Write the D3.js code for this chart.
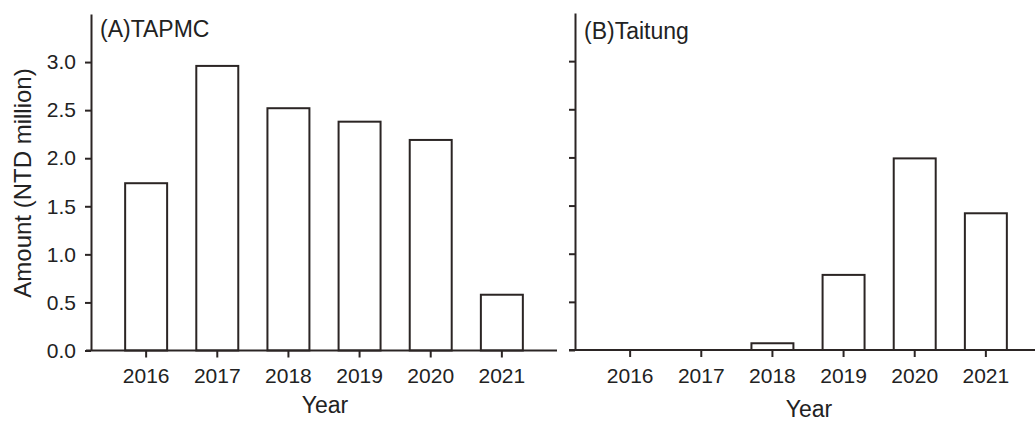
<!DOCTYPE html>
<html>
  <head>
    <meta charset="utf-8">
    <title>Amount by year</title>
    <script src="https://cdn.jsdelivr.net/npm/d3@7"></script>
    <style>
      body { margin: 0; background: #fff; }
      svg { display: block; font-family: "Liberation Sans", Arial, sans-serif; }
      .axis path, .axis line { stroke: #2b2524; stroke-width: 2px; }
      .axis text { fill: #222; font-size: 21px; }
      .bar { fill: #fff; stroke: #2b2524; stroke-width: 2px; }
      .panel-title, .axis-title { fill: #222; font-size: 23px; }
    </style>
  </head>
  <body>
    <svg id="chart" width="1035" height="421"></svg>
    <script>
    var years = ["2016", "2017", "2018", "2019", "2020", "2021"];
    var tapmc = [1.74, 2.96, 2.52, 2.38, 2.19, 0.58];
    var taitung = [0, 0, 0.07, 0.78, 1.99, 1.42];
    var yTicks = [0, 0.5, 1.0, 1.5, 2.0, 2.5, 3.0];

    var svg = d3.select("#chart");

    var panels = [
      {title: "(A)TAPMC", values: tapmc, left: 91, right: 557, top: 14, bottom: 350.5,
       labels: true, titleY: 37, yearX: 325, yearY: 413, baseStart: 86},
      {title: "(B)Taitung", values: taitung, left: 575, right: 1041, top: 13, bottom: 350,
       labels: false, titleY: 39, yearX: 809, yearY: 417, baseStart: 569}
    ];

    panels.forEach(function(p) {
      var x = d3.scaleBand()
          .domain(years)
          .range([p.left, p.right])
          .paddingInner(0.41)
          .paddingOuter(0.48);

      var y = d3.scaleLinear()
          .domain([0, 3.5])
          .range([p.bottom, p.top]);

      var data = years.map(function(yr, i) { return {year: yr, value: p.values[i]}; });

      var g = svg.append("g");

      g.selectAll("rect")
        .data(data)
        .enter().append("rect")
        .attr("class", "bar")
        .attr("x", function(d) { return x(d.year); })
        .attr("width", x.bandwidth())
        .attr("y", function(d) { return y(d.value); })
        .attr("height", function(d) { return y(0) - y(d.value); });

      var yAxis = d3.axisLeft(y)
          .tickValues(yTicks)
          .tickSize(6)
          .tickSizeOuter(0)
          .tickPadding(9)
          .tickFormat(p.labels ? d3.format(".1f") : function() { return ""; });

      g.append("g")
        .attr("class", "axis")
        .attr("transform", "translate(" + p.left + ",0)")
        .call(yAxis);

      var xAxis = d3.axisBottom(x)
          .tickSize(7)
          .tickSizeOuter(0)
          .tickPadding(11);

      var xg = g.append("g")
        .attr("class", "axis")
        .attr("transform", "translate(0," + p.bottom + ")")
        .call(xAxis);
      xg.select(".domain").remove();

      // baseline runs a bit past the y axis on the left
      g.append("line")
        .attr("x1", p.baseStart)
        .attr("x2", p.right)
        .attr("y1", p.bottom)
        .attr("y2", p.bottom)
        .attr("stroke", "#2b2524")
        .attr("stroke-width", 2);

      g.append("text")
        .attr("class", "panel-title")
        .attr("x", p.left + 9)
        .attr("y", p.titleY)
        .text(p.title);

      g.append("text")
        .attr("class", "axis-title")
        .attr("x", p.yearX)
        .attr("y", p.yearY)
        .attr("text-anchor", "middle")
        .text("Year");
    });

    svg.append("text")
      .attr("class", "axis-title")
      .attr("transform", "translate(31,183) rotate(-90)")
      .attr("text-anchor", "middle")
      .style("font-size", "24px")
      .text("Amount (NTD million)");
    </script>
  </body>
</html>
